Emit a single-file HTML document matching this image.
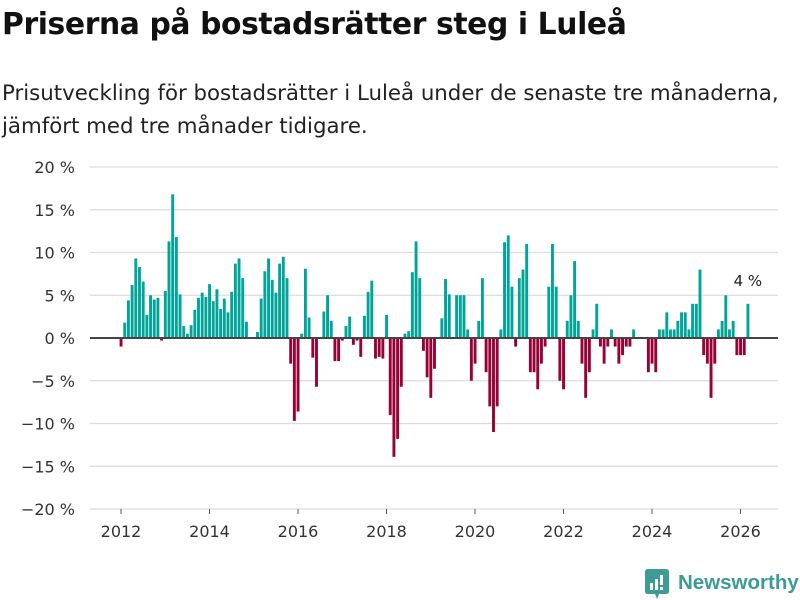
<!DOCTYPE html>
<html><head><meta charset="utf-8"><style>
body{margin:0;background:#fff;font-family:"DejaVu Sans","Liberation Sans",sans-serif;}
#wrap{position:relative;width:800px;height:600px;overflow:hidden;}
h1{position:absolute;left:2px;top:7px;margin:0;font-size:29.8px;font-weight:bold;color:#111;letter-spacing:-0.4px}
p{position:absolute;left:2px;top:77px;margin:0;font-size:21.3px;line-height:33px;color:#222;width:798px;white-space:nowrap}
</style></head><body>
<div id="wrap">
<h1>Priserna på bostadsrätter steg i Luleå</h1>
<p>Prisutveckling för bostadsrätter i Luleå under de senaste tre månaderna,<br>jämfört med tre månader tidigare.</p>
<svg id="chart" width="800" height="600" style="position:absolute;left:0;top:0"></svg>
<div style="position:absolute;left:645px;top:569px;">
<svg width="24" height="30" viewBox="0 0 24 30"><path d="M0 3Q0 0 3 0H21Q24 0 24 3V22Q24 25 21 25H14L12 30L10 25H3Q0 25 0 22Z" fill="#3d9a95"/><rect x="5" y="14" width="3" height="7" fill="#fff"/><rect x="10" y="10" width="3" height="11" fill="#fff"/><rect x="15" y="6" width="3" height="10" fill="#fff"/><rect x="15" y="18" width="3" height="3" fill="#fff"/></svg>
<span style="position:absolute;left:33px;top:2px;font-size:20.5px;color:#3d9a95;font-weight:bold;font-family:'Liberation Sans',sans-serif;white-space:nowrap">Newsworthy</span>
</div>
</div>
<script>
const startYear = 2012;
const values = [
-1,1.8,4.4,6.2,9.3,8.3,6.6,2.7,5,4.5,4.7,-0.3,
5.5,11.3,16.8,11.8,5.1,1.4,0.5,1.5,3.3,4.7,5.3,4.8,
6.3,4.3,5.7,3.4,4.6,3,5.4,8.7,9.3,7,1.9,0,
0,0.7,4.6,7.8,9.3,6.8,5.3,8.7,9.5,7,-3,-9.7,
-8.6,0.5,8.1,2.4,-2.3,-5.7,0,3.1,5,2,-2.7,-2.7,
-0.3,1.4,2.5,-0.8,-0.3,-2.2,2.6,5.4,6.7,-2.4,-2.2,-2.4,
2.7,-9,-13.9,-11.8,-5.7,0.5,0.8,7.7,11.3,7,-1.5,-4.6,
-7,-3.6,0,2.3,6.9,5.1,0,5,5,5,1,-5,
-3,2,7,-4,-8,-11,-8,1,11.2,12,6,-1,
7,8,11,-4,-4,-6,-3,-1,6,11,6,-5,
-6,2,5,9,2,-3,-7,-4,1,4,-1,-3,
-1,1,-1,-3,-2,-1,-1,1,0,0,0,-4,
-3,-4,1,1,3,1,1,2,3,3,1,4,
4,8,-2,-3,-7,-3,1,2,5,1,2,-2,
-2,-2,4];
const yTicks = [20,15,10,5,0,-5,-10,-15,-20];
const xTicks = [2012,2014,2016,2018,2020,2022,2024,2026];
const lastLabel = "4 %";

const svg = document.getElementById('chart');
const NS = 'http://www.w3.org/2000/svg';
function y(v){ return 338 - v*8.55; }
function x(t){ return 121 + (t-2012)*44.25; }
function mk(tag, attrs){ const e=document.createElementNS(NS,tag); for(const k in attrs) e.setAttribute(k,attrs[k]); svg.appendChild(e); return e; }

yTicks.forEach(t=>{
  const g = mk('line',{x1:90,x2:778,y1:y(t),y2:y(t),stroke:'#dcdcdc','stroke-width':1.3});
  
  
  const tx = mk('text',{x:75,y:y(t)+6,'text-anchor':'end','font-size':16,fill:'#333','font-family':'DejaVu Sans, Liberation Sans, sans-serif'});
  tx.textContent = (t<0?'\u2212'+Math.abs(t):t)+' %';
  
  
});
xTicks.forEach(t=>{
  const l = mk('line',{x1:x(t),x2:x(t),y1:509,y2:514,stroke:'#555','stroke-width':1});
  
  
  const tx = mk('text',{x:x(t),y:537,'text-anchor':'middle','font-size':16,fill:'#333','font-family':'DejaVu Sans, Liberation Sans, sans-serif'});
  tx.textContent = t;
  
  
});
values.forEach((v,i)=>{
  const cx = x(startYear + i/12);
  const b = mk('rect',{x:cx-1.4,width:2.9,y:Math.min(y(v),y(0)),height:Math.abs(y(v)-y(0)),fill:v>=0?'#00a59a':'#980036'});
  
  
});
const z = mk('line',{x1:90,x2:778,y1:y(0),y2:y(0),stroke:'#444','stroke-width':2});


const li = values.length-1;
const an = mk('text',{x:x(startYear+li/12),y:y(values[li])-18,'text-anchor':'middle','font-size':15,fill:'#222','font-family':'DejaVu Sans, Liberation Sans, sans-serif'});
an.textContent = lastLabel;


</script>
</body></html>
